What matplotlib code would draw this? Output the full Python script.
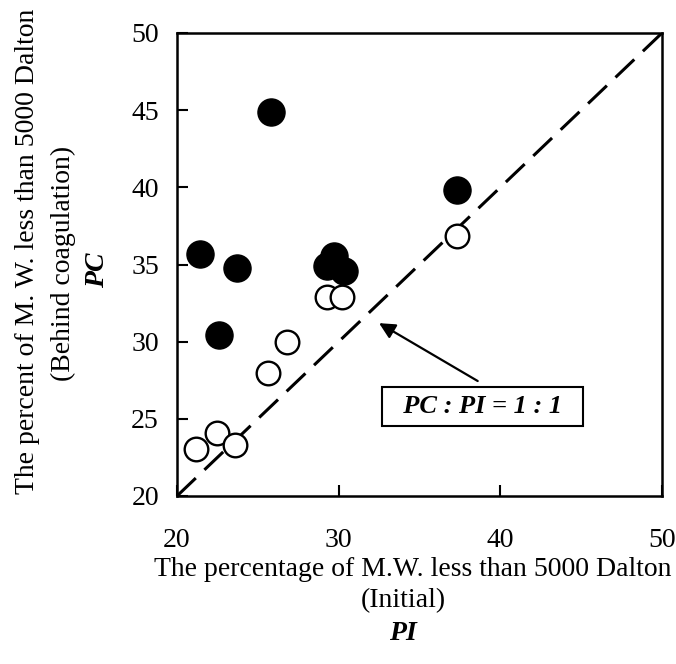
import matplotlib
matplotlib.use("Agg")
import matplotlib.pyplot as plt
import numpy as np

# Data
filled_x = [25.8, 37.3, 21.4, 23.7, 22.6, 29.25, 29.7, 30.3]
filled_y = [44.9, 39.85, 35.7, 34.75, 30.4, 34.9, 35.55, 34.6]
open_x = [37.3, 29.25, 30.2, 26.8, 25.6, 22.5, 21.2, 23.6]
open_y = [36.85, 32.9, 32.9, 29.95, 27.95, 24.05, 23.05, 23.3]
line_x = [20, 50]
line_y = [20, 50]
xticks = [20, 30, 40, 50]
yticks = [20, 25, 30, 35, 40, 45, 50]

plt.rcParams['font.family'] = ['Liberation Serif', 'DejaVu Serif']
FS = 20

W, H = 676, 664
fig = plt.figure(figsize=(W / 100, H / 100), dpi=100)
left, right, top, bottom = 177, 662, 33, 496
ax = fig.add_axes([left / W, 1 - bottom / H, (right - left) / W, (bottom - top) / H])

ax.plot(line_x, line_y, color='black', lw=2.2, linestyle=(0, (8.5, 3.9)), zorder=1)
ax.plot(open_x, open_y, linestyle='none', marker='o', markersize=17,
        markerfacecolor='white', markeredgecolor='black', markeredgewidth=1.7, zorder=2)
ax.plot(filled_x, filled_y, linestyle='none', marker='o', markersize=19.5,
        markerfacecolor='black', markeredgecolor='black', zorder=3)

ax.set_xlim(20, 50)
ax.set_ylim(20, 50)
ax.set_xticks(xticks)
ax.set_yticks(yticks)
ax.tick_params(direction='in', length=8, width=1.5, labelsize=FS)
ax.tick_params(axis='x', pad=23)
ax.tick_params(axis='y', pad=13)
for s in ax.spines.values():
    s.set_linewidth(1.8)

# Label box and arrow
ax.text(38.9, 25.8, '  PC : PI = 1 : 1  ', ha='center', va='center', fontsize=19,
        fontweight='bold', fontstyle='italic', zorder=4,
        bbox=dict(boxstyle='square,pad=0.3', fc='white', ec='black', lw=1.5))
ax.annotate('', xy=(32.5, 31.2), xytext=(38.6, 27.45),
            arrowprops=dict(arrowstyle='-|>', color='black', lw=1.6, mutation_scale=24,
                            shrinkA=0, shrinkB=0))

# x-axis label lines
fig.text(413 / W, 1 - 569 / H, 'The percentage of M.W. less than 5000 Dalton',
         ha='center', va='center', fontsize=FS)
fig.text(403 / W, 1 - 601 / H, '(Initial)', ha='center', va='center', fontsize=FS)
fig.text(403 / W, 1 - 634 / H, 'PI', ha='center', va='center', fontsize=FS,
         fontweight='bold', fontstyle='italic')

# y-axis label lines
fig.text(28 / W, 1 - 251 / H, 'The percent of M. W. less than 5000 Dalton',
         ha='center', va='center', rotation=90, fontsize=FS)
fig.text(63 / W, 1 - 263 / H, '(Behind coagulation)',
         ha='center', va='center', rotation=90, fontsize=FS)
fig.text(98 / W, 1 - 270 / H, 'PC', ha='center', va='center', rotation=90, fontsize=FS,
         fontweight='bold', fontstyle='italic')

fig.savefig('out.png', dpi=100)
